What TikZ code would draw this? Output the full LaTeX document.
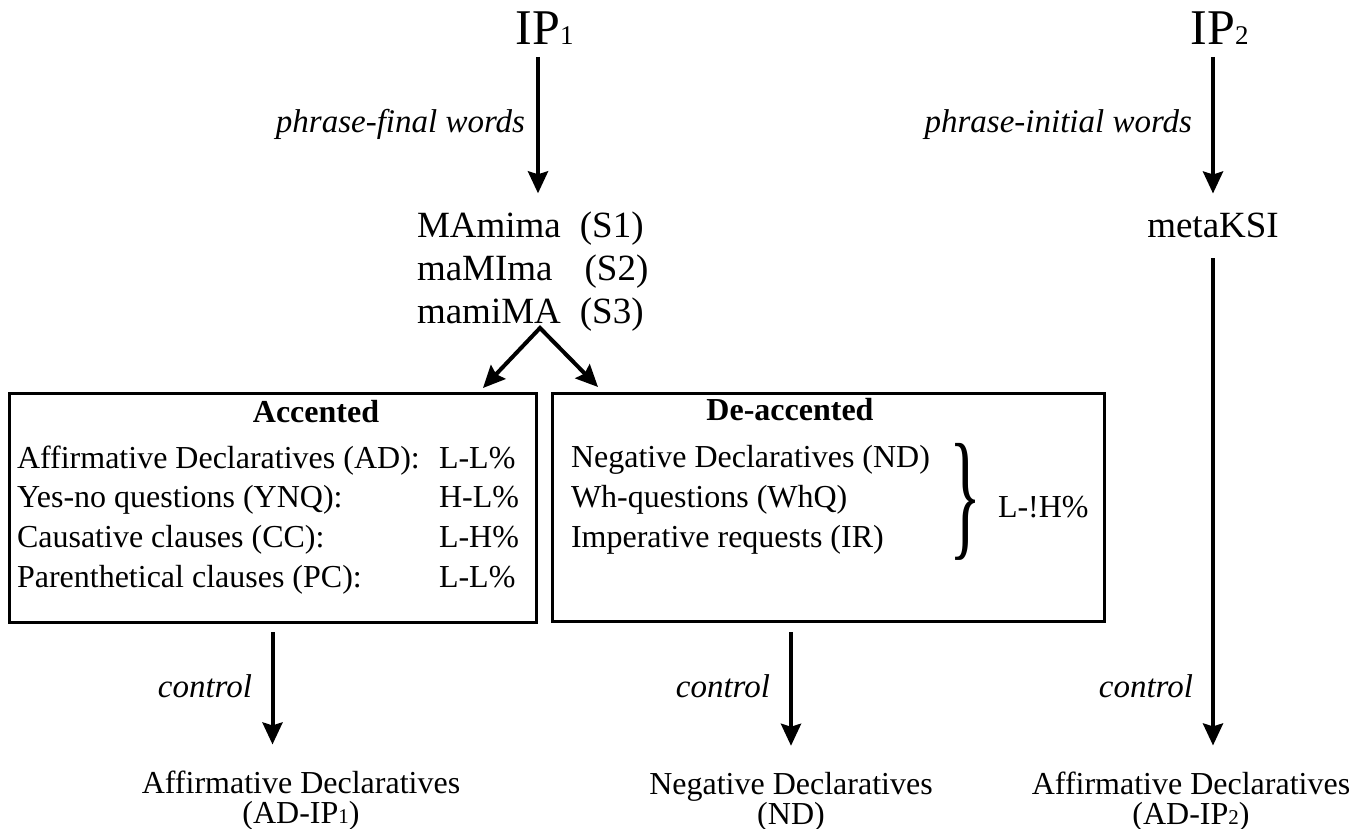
\documentclass[tikz,border=0pt]{standalone}
\usepackage{fontspec}
\setmainfont{Liberation Serif}
\usetikzlibrary{arrows.meta,calc}
\newcommand\setfs[2]{\fontsize{#1}{#2}\selectfont}
\begin{document}
\begin{tikzpicture}[x=1pt,y=-1pt,
  every node/.style={inner sep=0pt, outer sep=0pt},
  arr/.style={line width=4pt, -{Stealth[length=22pt,width=20pt,inset=3pt]}},
  boxst/.style={draw, line width=3pt},
  body/.style={font=\setfs{32}{36}},
  big/.style={font=\setfs{37}{40}},
  ital/.style={font=\setfs{33}{36}\itshape},
  head/.style={font=\setfs{32}{36}\bfseries},
  ipst/.style={font=\setfs{50}{54}},
  bottom/.style={font=\setfs{32}{30}, align=center, anchor=base},
]
\useasboundingbox (0,0) rectangle (1371,829);

% top nodes
\node[ipst, anchor=base] (ip1) at (538,45) {IP\rlap{\setfs{27}{27}1}};
\node[ipst, anchor=base] (ip2) at (1213,45) {IP\rlap{\setfs{27}{27}2}};

\node[big, anchor=base west] (s1) at (417,237) {MAmima\hspace{19pt}(S1)};
\node[big, anchor=base west] (s2) at (417,280) {maMIma\hspace{32pt}(S2)};
\node[big, anchor=base west] (s3) at (417,323) {mamiMA\hspace{19pt}(S3)};
\node[big, anchor=base] (meta) at (1213,238) {metaKSI};

\node[ital, anchor=base east] (pfw) at (525,133) {phrase-final words};
\node[ital, anchor=base east] (piw) at (1192,133) {phrase-initial words};

% boxes
\node[boxst, minimum width=527pt, minimum height=229pt] (acc) at (272.5,507.5) {};
\node[boxst, minimum width=552pt, minimum height=228pt] (deacc) at (828,507) {};

% accented contents
\node[head, anchor=base] (acch) at (316,422) {Accented};
\node[body, anchor=base west] (ad) at (17,468) {Affirmative Declaratives (AD):};
\node[body, anchor=base west] (ynq) at (17,507) {Yes-no questions (YNQ):};
\node[body, anchor=base west] (cc) at (17,547) {Causative clauses (CC):};
\node[body, anchor=base west] (pc) at (17,587) {Parenthetical clauses (PC):};
\node[body, anchor=base west] (adt) at (439,468) {L-L\%};
\node[body, anchor=base west] (ynqt) at (439,507) {H-L\%};
\node[body, anchor=base west] (cct) at (439,547) {L-H\%};
\node[body, anchor=base west] (pct) at (439,587) {L-L\%};

% de-accented contents
\node[head, anchor=base] (deh) at (790,420) {De-accented};
\node[body, anchor=base west] (nd) at (571,467) {Negative Declaratives (ND)};
\node[body, anchor=base west] (whq) at (571,507) {Wh-questions (WhQ)};
\node[body, anchor=base west] (ir) at (571,547) {Imperative requests (IR)};
\node (brace) at (965,502) {\resizebox*{32pt}{117pt}{\}}};
\node[body, anchor=base west] (lh) at (998,517) {L-!H\%};

% bottom nodes (base = last line)
\node[bottom] (ad1) at (301,823) {Affirmative Declaratives\\(AD-IP{\setfs{21}{21}1})};
\node[bottom] (nd2) at (791,824) {Negative Declaratives\\(ND)};
\node[bottom] (ad2) at (1191,824) {Affirmative Declaratives\\(AD-IP{\setfs{21}{21}2})};

\node[ital, anchor=base east] (c1) at (252,697) {control};
\node[ital, anchor=base east] (c2) at (770,697) {control};
\node[ital, anchor=base east] (c3) at (1193,697) {control};

% connectors
\draw[arr, shorten <=12pt, shorten >=18pt] (ip1.south) -- (ip1.south |- s1.north);
\draw[arr, shorten <=12pt, shorten >=20pt] (ip2.south) -- (ip2.south |- meta.north);
\coordinate (fork) at (540,328);
\draw[line width=4pt, {Stealth[length=22pt,width=20pt,inset=3pt]}-{Stealth[length=22pt,width=20pt,inset=3pt]}]
  ($(acc.north east)+(-53,-5)$) -- (fork) -- ($(deacc.north west)+(46,-6)$);
\draw[arr, shorten <=10pt, shorten >=26pt] (acc.south) -- (acc.south |- ad1.north);
\draw[arr, shorten <=11pt, shorten >=26pt] (nd2.north |- deacc.south) -- (nd2.north);
\draw[arr, shorten <=20pt, shorten >=26pt] (meta.south) -- (meta.south |- ad2.north);
\end{tikzpicture}
\end{document}
